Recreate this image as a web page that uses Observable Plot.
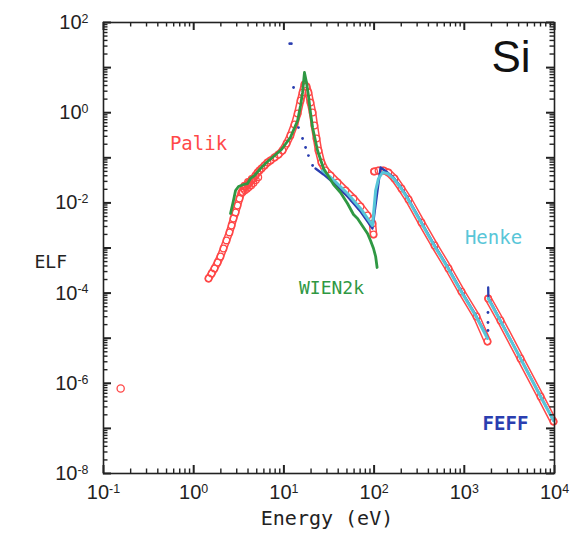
<!DOCTYPE html>
<html><head><meta charset="utf-8">
<script src="https://cdn.jsdelivr.net/npm/d3@7"></script>
<script src="https://cdn.jsdelivr.net/npm/@observablehq/plot@0.6"></script>
<style>body{margin:0;background:#fff}</style>
</head><body><div id="chart"></div>
<script>
// ---- data: [Energy (eV), ELF] ----
const palikIsolated = [[0.155, 7.67e-7]];
const palikSeg1 = [[1.46,2.11e-4],[1.58,2.72e-4],[1.70,3.51e-4],[1.84,4.77e-4],[1.98,6.48e-4],[2.14,9.75e-4],[2.31,1.47e-3],[2.49,2.21e-3],[2.63,3.15e-3],[2.76,4.51e-3],[2.91,6.12e-3],[3.06,8.75e-3],[3.22,0.0125],[3.39,0.0170],[3.57,0.0208],[3.75,0.0231],[3.95,0.0256],[4.16,0.0283],[4.37,0.0314],[4.60,0.0348],[4.84,0.0405],[5.10,0.0472],[5.36,0.0523],[5.65,0.0579],[6.10,0.0675],[6.58,0.0787],[7.10,0.0871],[7.87,0.102],[8.71,0.118],[9.65,0.145],[10.7,0.207],[11.8,0.312],[13.1,0.547],[14.2,0.96],[15.3,1.87],[16.1,2.81],[16.9,4.22],[17.8,3.81],[18.7,2.81],[19.7,1.68],[20.8,1.01],[21.8,0.52],[23.0,0.268],[24.2,0.145],[26.1,0.0787],[28.9,0.0523],[32.9,0.0405],[39.3,0.0283],[48.2,0.0188],[59.1,0.0125],[70.7,8.32e-3],[84.5,5.26e-3],[96.0,3.49e-3],[98.5,1.99e-3]];
const palikExtra = [[3.5,0.0175],[3.7,0.0190],[3.9,0.0205],[4.1,0.0225],[4.35,0.0245],[4.6,0.0275],[4.9,0.0320],[5.2,0.0370],[3.65,0.0240],[4.0,0.0290],[4.4,0.0340]];
const palikSeg2 = [[100,0.0497],[112,0.0523],[127,0.0523],[144,0.0472],[168,0.0348],[201,0.0208],[241,0.0119],[335,3.67e-3],[468,1.14e-3],[668,3.51e-4],[931,1.08e-4],[1366,3.03e-5],[1808,8.45e-6]];
const palikSeg3 = [[1840,7.59e-5],[2518,2.47e-5],[4197,3.55e-6],[6998,5.1e-7],[9750,1.42e-7]];

const henkeSeg1 = [[26.8,0.0523],[37.1,0.0299],[50.7,0.0162],[70.7,0.00752],[96,0.00315],[104,0.0188],[112,0.0348],[124,0.0472],[141,0.0449],[164,0.0348],[196,0.0220],[235,0.01253],[327,0.00387],[456,0.00120],[652,3.70e-4],[908,1.14e-4],[1331,3.18e-5],[1808,9.84e-6]];
const henkeSeg2 = [[1840,7.59e-5],[2518,2.41e-5],[4197,3.55e-6],[6998,5.10e-7],[9750,1.50e-7]];

const feffDots = [[11.6,34],[12.1,34],[12.8,3.62],[14.5,0.469],[16.1,0.268],[17.4,0.169],[18.7,0.112],[20.8,0.0675],[1830,1.48e-5],[1830,2.23e-5],[1830,3.71e-5]];
const feffSeg1 = [[22.4,0.0579],[27.5,0.0427],[37.1,0.0256],[50.7,0.0139],[70.7,0.00644],[96,0.00271],[118,0.0610],[141,0.0472],[164,0.0366],[196,0.0231],[235,0.0132],[327,0.00407],[456,1.26e-3],[652,3.89e-4],[908,1.20e-4],[1331,3.35e-5],[1808,1.04e-5]];
const feffSeg2 = [[1840,1.33e-4],[1850,7.9e-5],[2518,2.45e-5],[4197,3.6e-6],[6998,5.2e-7],[9750,1.5e-7]];

const wien2k = [[2.56,5.82e-3],[2.76,0.0113],[2.91,0.0188],[3.14,0.0231],[3.57,0.0256],[3.95,0.0269],[4.26,0.0348],[4.72,0.0405],[5.50,0.0579],[6.41,0.0787],[7.67,0.107],[9.41,0.153],[11.8,0.282],[14.2,0.671],[15.3,1.45],[16.1,2.81],[16.9,7.78],[17.8,4.68],[18.7,2.41],[19.7,1.01],[20.8,0.469],[23.6,0.145],[27.5,0.0579],[35.5,0.0256],[42.4,0.0170],[50.7,9.70e-3],[59.1,5.53e-3],[65.5,4.51e-3],[76.3,2.85e-3],[84.5,2.10e-3],[91.2,1.47e-3],[98.5,9.75e-4],[104,6.48e-4],[108,3.70e-4]];

// annotation positions [Energy, ELF]
const labelPalik = [[1.13, 0.207]];
const labelWien = [[33.7, 1.26e-4]];
const labelHenke = [[2107, 1.71e-3]];
const labelFeff = [[2862, 1.28e-7]];
const labelSi = [[3300, 16.7]];

// ticks
const xTickExp = [-1, 0, 1, 2, 3, 4];
const yTickExp = [-8, -7, -6, -5, -4, -3, -2, -1, 0, 1, 2];
const yLabelExp = [-8, -6, -4, -2, 0, 2];
const xMajor = xTickExp.map(e => Math.pow(10, e));
const yMajor = yTickExp.map(e => Math.pow(10, e));
const yLabels = yLabelExp.map(e => Math.pow(10, e));
const minorOf = exps => exps.slice(0, -1).flatMap(e => d3.range(2, 10).map(k => k * Math.pow(10, e)));
const xMinor = minorOf(xTickExp);
const yMinor = minorOf(yTickExp);

const RED = "#ff4848", GREEN = "#2f9843", CYAN = "#58c6d8", BLUE = "#2a3eb0";
const monoFont = "'DejaVu Sans Mono', monospace";
const tickFont = "'Liberation Sans Narrow','Liberation Sans',Arial,sans-serif";
const X = d => d[0], Y = d => d[1], I = d => d;
const expFmt = d => String(Math.round(Math.log10(d)));

const W = 575, H = 539, ML = 103, MR = 21, MT = 22, MB = 66;
const FW = W - ML - MR, FH = H - MT - MB;
const palikLines = [palikSeg1, palikSeg2, palikSeg3];
const axisStroke = "#222";
const MAJ = 8, MIN = 4.5;

const chart = Plot.plot({
  width: W, height: H,
  marginLeft: ML, marginRight: MR, marginTop: MT, marginBottom: MB,
  style: {background: "#fff", overflow: "visible"},
  x: {type: "log", domain: [0.1, 1e4], axis: null},
  y: {type: "log", domain: [1e-8, 1e2], axis: null},
  marks: [
    // Palik: chain of open circles
    ...palikLines.map(s => Plot.line(s, {x: X, y: Y, stroke: RED, strokeWidth: 7.6})),
    ...palikLines.map(s => Plot.line(s, {x: X, y: Y, stroke: "#fff", strokeWidth: 4.6})),
    Plot.dot(palikExtra, {x: X, y: Y, r: 3.3, stroke: RED, strokeWidth: 1.3}),
    ...palikLines.map(s => Plot.dot(s, {x: X, y: Y, r: 3.3, stroke: RED, strokeWidth: 1.3})),
    Plot.dot(palikIsolated, {x: X, y: Y, r: 3.6, stroke: RED, strokeWidth: 1.3}),
    // FEFF
    Plot.line(feffSeg1, {x: X, y: Y, stroke: BLUE, strokeWidth: 2.3}),
    Plot.line(feffSeg2, {x: X, y: Y, stroke: BLUE, strokeWidth: 2.3}),
    Plot.dot(feffDots, {x: X, y: Y, r: 1.4, fill: BLUE}),
    // Henke
    Plot.line(henkeSeg1, {x: X, y: Y, stroke: CYAN, strokeWidth: 3}),
    Plot.line(henkeSeg2, {x: X, y: Y, stroke: CYAN, strokeWidth: 3}),
    // WIEN2k
    Plot.line(wien2k, {x: X, y: Y, stroke: GREEN, strokeWidth: 2.8}),
    // frame & inward ticks on all four sides
    Plot.frame({stroke: axisStroke, strokeWidth: 1.6}),
    Plot.tickY(yMajor, {y: I, insetRight: FW - MAJ, stroke: axisStroke, strokeWidth: 2}),
    Plot.tickY(yMinor, {y: I, insetRight: FW - MIN, stroke: axisStroke, strokeWidth: 1.4}),
    Plot.tickY(yMajor, {y: I, insetLeft: FW - MAJ, stroke: axisStroke, strokeWidth: 2}),
    Plot.tickY(yMinor, {y: I, insetLeft: FW - MIN, stroke: axisStroke, strokeWidth: 1.4}),
    Plot.tickX(xMajor, {x: I, insetTop: FH - MAJ, stroke: axisStroke, strokeWidth: 2}),
    Plot.tickX(xMinor, {x: I, insetTop: FH - MIN, stroke: axisStroke, strokeWidth: 1.4}),
    Plot.tickX(xMajor, {x: I, insetBottom: FH - MAJ, stroke: axisStroke, strokeWidth: 2}),
    Plot.tickX(xMinor, {x: I, insetBottom: FH - MIN, stroke: axisStroke, strokeWidth: 1.4}),
    // tick labels
    Plot.axisY({ticks: yLabels, anchor: "left", tickSize: 0, tickPadding: 15, tickFormat: expFmt, fontSize: 20, fontFamily: tickFont, fill: "#222", label: null}),
    Plot.axisX({ticks: xMajor, anchor: "bottom", tickSize: 0, tickPadding: 11, tickFormat: expFmt, fontSize: 20, fontFamily: tickFont, fill: "#222", label: null}),
    // axis titles
    Plot.text(["ELF"], {frameAnchor: "left", dx: -69, dy: 14, fontSize: 18, fontFamily: monoFont, fill: "#222"}),
    Plot.text(["Energy (eV)"], {frameAnchor: "bottom", dx: -2, dy: 51, fontSize: 20, fontFamily: monoFont, fill: "#222"}),
    // series labels
    Plot.text(labelPalik, {x: X, y: Y, text: () => "Palik", fontSize: 19, fontFamily: monoFont, fill: RED, letterSpacing: 1}),
    Plot.text(labelWien, {x: X, y: Y, text: () => "WIEN2k", fontSize: 18, fontFamily: monoFont, fill: GREEN}),
    Plot.text(labelHenke, {x: X, y: Y, text: () => "Henke", fontSize: 19, fontFamily: monoFont, fill: CYAN}),
    Plot.text(labelFeff, {x: X, y: Y, text: () => "FEFF", fontSize: 19, fontFamily: monoFont, fill: BLUE, fontWeight: "bold"}),
    Plot.text(labelSi, {x: X, y: Y, text: () => "Si", fontSize: 44, fontFamily: tickFont, fill: "#111"})
  ]
});

// superscript exponents on tick labels
d3.select(chart).selectAll('g[aria-label="y-axis tick label"] text, g[aria-label="x-axis tick label"] text').each(function() {
  const t = d3.select(this);
  const e = t.text();
  if (e === "") return;
  t.text("10");
  t.append("tspan").attr("dy", "-0.5em").attr("font-size", "0.62em").text(e);
});

document.getElementById("chart").appendChild(chart);
</script>
</body></html>
